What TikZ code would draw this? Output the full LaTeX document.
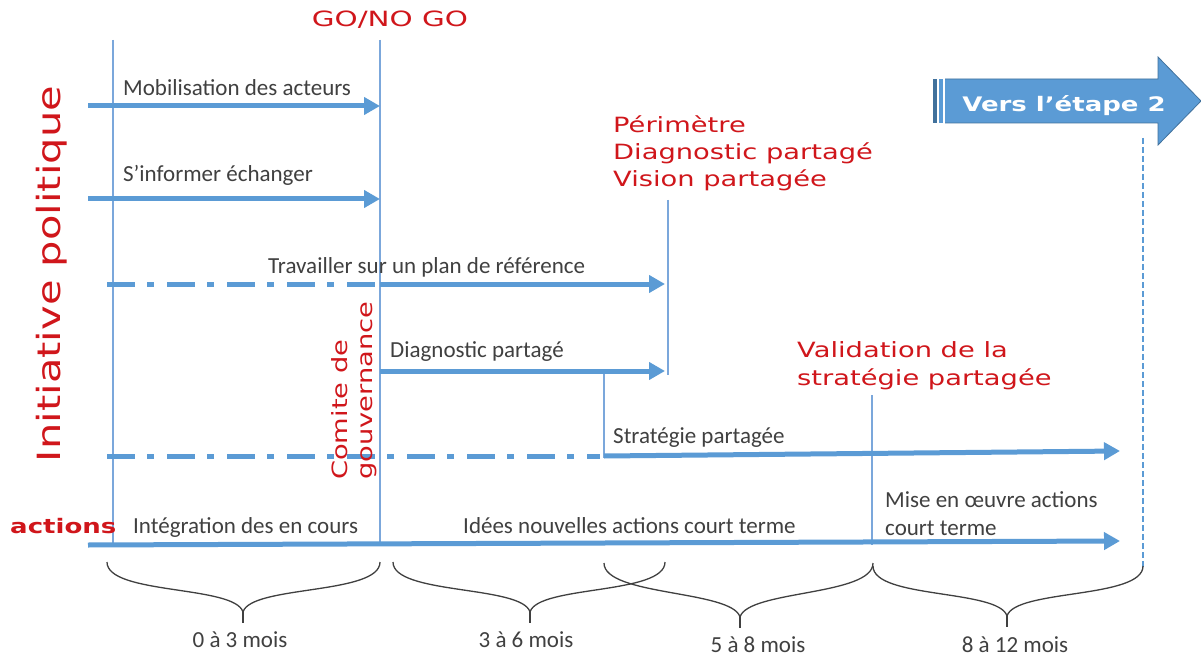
\documentclass[tikz,border=0pt]{standalone}
\usepackage{fontspec}
\setmainfont{Carlito}
\newfontfamily\redf[FakeStretch=1.3]{DejaVu Sans}
\newfontfamily\gof[FakeStretch=1.4]{DejaVu Sans}
\usetikzlibrary{arrows.meta}
\definecolor{lineblue}{HTML}{5B9BD5}
\definecolor{thinblue}{HTML}{7BA7DB}
\definecolor{redc}{HTML}{D0161B}
\definecolor{greyt}{HTML}{404040}
\definecolor{darkblue}{HTML}{41719C}
\tikzset{
  thinline/.style={draw=thinblue, line width=1.6pt},
  flow/.style={draw=lineblue, line width=5pt, -{Triangle[length=16pt,width=17pt]}},
  dashdot/.style={draw=lineblue, line width=5pt, dash pattern=on 28pt off 12pt on 7pt off 13pt},
  lbl/.style={text=greyt, font=\fontsize{23}{28}\selectfont, inner sep=0pt, anchor=base west},
  redlbl/.style={text=redc, font=\redf\fontsize{21}{27}\selectfont, inner sep=0pt, align=left},
  bracest/.style={draw=black!75, line width=1.3pt},
  mois/.style={text=greyt, font=\fontsize{23}{28}\selectfont, inner sep=0pt, anchor=base},
}
\newcommand\mybrace[5]{%
  \draw[bracest] (#1,#4) .. controls (#1,#4+33) and (#3-8,#5-27) .. (#3,#5)
     .. controls (#3+8,#5-27) and (#2,#4+33) .. (#2,#4);
  \draw[bracest] (#3,#5) -- (#3,#5+11);
}
\begin{document}
\begin{tikzpicture}[x=1pt,y=-1pt]
\useasboundingbox[fill=white] (0,0) rectangle (1201,660);

% vertical thin lines
\coordinate (v1t) at (113,40); \coordinate (v1b) at (113,545);
\coordinate (v2t) at (380,40); \coordinate (v2b) at (380,545);
\coordinate (v3t) at (668,200); \coordinate (v3b) at (668,375);
\coordinate (v4t) at (604,373); \coordinate (v4b) at (604,458);
\coordinate (v5t) at (872,395); \coordinate (v5b) at (872,545);
\coordinate (v6t) at (1143,138); \coordinate (v6b) at (1143,568);
\draw[thinline] (v1t) -- (v1b);
\draw[thinline] (v2t) -- (v2b);
\draw[thinline] (v3t) -- (v3b);
\draw[thinline] (v4t) -- (v4b);
\draw[thinline] (v5t) -- (v5b);
\draw[draw=lineblue, line width=1.4pt, dash pattern=on 6pt off 3pt] (v6t) -- (v6b);

% arrows
\coordinate (a1s) at (88,106); \coordinate (a1e) at (380,106);
\coordinate (a2s) at (88,199); \coordinate (a2e) at (380,199);
\coordinate (d1s) at (107,284); \coordinate (d1e) at (380,284); \coordinate (a3e) at (665,284);
\coordinate (a4s) at (380,371); \coordinate (a4e) at (665,371);
\coordinate (d2s) at (107,456); \coordinate (d2e) at (600,456);
\coordinate (a5s) at (604,456); \coordinate (a5e) at (1120,451);
\coordinate (a6s) at (88,545); \coordinate (a6e) at (1120,541);
\draw[flow] (a1s) -- (a1e);
\draw[flow] (a2s) -- (a2e);
\draw[dashdot] (d1s) -- (d1e);
\draw[flow] (d1e) -- (a3e);
\draw[flow] (a4s) -- (a4e);
\draw[dashdot] (d2s) -- (d2e);
\draw[flow] (a5s) -- (a5e);
\draw[flow] (a6s) -- (a6e);

% grey labels
\node[lbl] (l1) at (123,96) {Mobilisation des acteurs};
\node[lbl] (l2) at (123,182) {S’informer échanger};
\node[lbl] (l3) at (268,273) {Travailler sur un plan de référence};
\node[lbl] (l4) at (390,357) {Diagnostic partagé};
\node[lbl] (l5) at (613,443) {Stratégie partagée};
\node[lbl] (l6) at (133,533) {Intégration des en cours};
\node[lbl] (l7) at (463,533) {Idées nouvelles actions court terme};
\node[lbl] (l8) at (885,507) {Mise en œuvre actions};
\node[lbl] (l9) at (885,535) {court terme};

% red labels
\node[text=redc, font=\gof\fontsize{21}{25}\selectfont, inner sep=0pt, anchor=base] (go) at (390,27) {GO/NO GO};
\node[redlbl, anchor=base west] (per) at (613,133) {Périmètre};
\node[redlbl, anchor=base west] (dia) at (613,160) {Diagnostic partagé};
\node[redlbl, anchor=base west] (vis) at (613,187) {Vision partagée};
\node[redlbl, anchor=base west] (val1) at (797,357) {Validation de la};
\node[redlbl, anchor=base west] (val2) at (797,385) {stratégie partagée};
\node[redlbl, anchor=base west, rotate=90] (com1) at (347,480) {Comite de};
\node[redlbl, anchor=base west, rotate=90] (com2) at (372,480) {gouvernance};
\node[text=redc, font=\redf\fontsize{32}{36}\selectfont, inner sep=0pt, anchor=base, rotate=90] (init) at (60,274) {Initiative politique};
\node[text=redc, font=\redf\bfseries\fontsize{20}{24}\selectfont, inner sep=0pt, anchor=base west] (act) at (10,533) {actions};

% big arrow
\fill[lineblue] (945,79) -- (1158,79) -- (1158,57) -- (1201,101) -- (1158,145) -- (1158,123) -- (945,123) -- cycle;
\draw[darkblue, line width=0.8pt] (945,79) -- (1158,79) -- (1158,57) -- (1201,101) -- (1158,145) -- (1158,123) -- (945,123);
\fill[darkblue] (933,79) rectangle (937,123);
\fill[lineblue] (939,79) rectangle (943,123);
\node[text=white, font=\redf\bfseries\fontsize{20}{24}\selectfont, inner sep=0pt, anchor=base] (vers) at (1064,112) {Vers l’étape 2};

% braces
\mybrace{107}{380}{243}{562}{612}
\mybrace{393}{665}{530}{562}{612}
\mybrace{604}{873}{740}{563}{617}
\mybrace{873}{1143}{1007}{566}{616}

\node[mois] (m1) at (240,647) {0 à 3 mois};
\node[mois] (m2) at (526,647) {3 à 6 mois};
\node[mois] (m3) at (758,652) {5 à 8 mois};
\node[mois] (m4) at (1015,652) {8 à 12 mois};
\end{tikzpicture}
\end{document}
